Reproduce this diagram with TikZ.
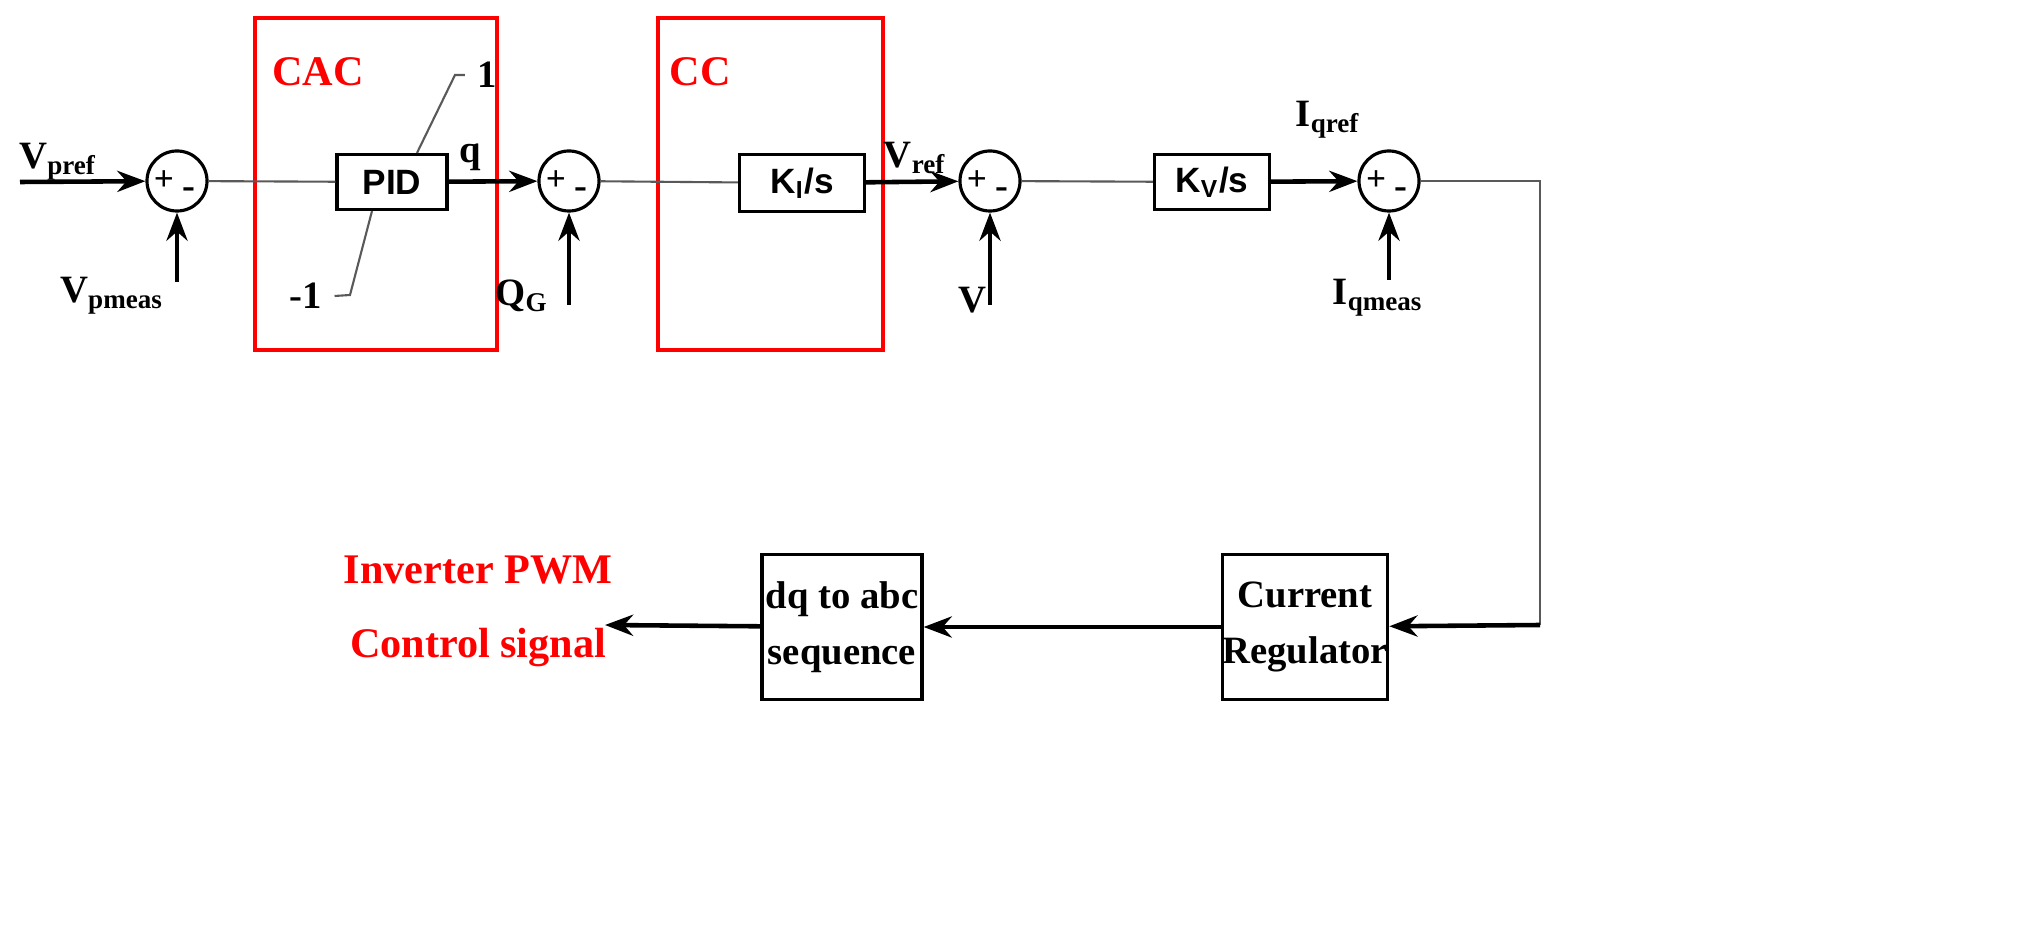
\documentclass[tikz,border=0pt]{standalone}
\usepackage{fontspec}
\setmainfont{Liberation Serif}
\newfontfamily\sansf{Liberation Sans}
\usetikzlibrary{arrows.meta}
\begin{document}
\begin{tikzpicture}[x=0.01cm,y=-0.01cm,
  sum/.style={draw,circle,minimum size=0.6cm,inner sep=0pt,line width=0.9pt},
  blk/.style={draw,line width=0.9pt,inner sep=0pt,font=\sansf\bfseries\fontsize{10}{12}\selectfont},
  blk2/.style={draw,line width=0.9pt,inner sep=0pt,align=center,font=\bfseries\fontsize{11}{16}\selectfont},
  redb/.style={draw=red,line width=1pt},
  lbl/.style={font=\bfseries\fontsize{11}{13}\selectfont},
  rlbl/.style={font=\bfseries\fontsize{12}{14}\selectfont,text=red},
  arr/.style={-{Stealth[length=8pt,width=6pt]},line width=1.3pt},
  ln/.style={line width=0.6pt,draw=gray!70!black}]
\useasboundingbox (0,0) rectangle (2019,925);
\draw[redb] (255,18) rectangle (497,350);
\draw[redb] (658,18) rectangle (883,350);
\node[rlbl] (cac) at (318,72) {CAC};
\node[rlbl] (cc) at (700,72) {CC};
\node[sum] (s1) at (177,181) {};
\node[sum] (s2) at (569,181) {};
\node[sum] (s3) at (990,181) {};
\node[sum] (s4) at (1389,181) {};
\foreach \s in {s1,s2,s3,s4}{
  \node[font=\bfseries\fontsize{10}{10}\selectfont] at ([xshift=-0.13cm]\s.center) {+};
  \node[font=\bfseries\fontsize{11}{11}\selectfont] at ([xshift=0.12cm,yshift=-0.12cm]\s.center) {-};}
\node[blk,minimum width=1.1cm,minimum height=0.55cm] (pid) at (392,182) {PID};
\node[blk,minimum width=1.25cm,minimum height=0.57cm] (ki) at (802,183) {K\textsubscript{I}/s};
\node[blk,minimum width=1.15cm,minimum height=0.55cm] (kv) at (1212,182) {K\textsubscript{V}/s};
\node[blk2,minimum width=1.32cm,minimum height=1.45cm] (cr) at (1305,627) {Current\\Regulator};
\node[blk2,minimum width=1.6cm,minimum height=1.45cm] (dq) at (842,627) {dq to abc\\sequence};
\node[lbl] (vpref) at (58,162) {V\textsubscript{pref}};
\node[lbl] (vpm) at (112,296) {V\textsubscript{pmeas}};
\node[lbl] (q) at (470,157) {q};
\node[lbl] (qg) at (522,296) {Q\textsubscript{G}};
\node[lbl] (vref) at (915,158) {V\textsubscript{ref}};
\node[lbl] (v) at (972,300) {V};
\node[lbl] (iqr) at (1328,120) {I\textsubscript{qref}};
\node[lbl] (iqm) at (1378,298) {I\textsubscript{qmeas}};
\node[lbl] (one) at (487,75) {1};
\node[lbl] (mone) at (306,296) {-1};
\node[rlbl] (inv) at (478,570) {Inverter PWM};
\node[rlbl] (ctl) at (478,648) {Control signal};
\coordinate (in1) at (20,182);
\coordinate (b1) at (177,282);
\coordinate (b2) at (569,305);
\coordinate (b3) at (990,305);
\coordinate (b4) at (1389,280);
\coordinate (c1) at (1540,181);
\coordinate (c2) at (1540,625);
\coordinate (out) at (605,625);
\draw[arr] (in1) -- (s1);
\draw[arr] (b1) -- (s1);
\draw[ln] (s1) -- (pid);
\draw[arr] (pid) -- (s2);
\draw[arr] (b2) -- (s2);
\draw[ln] (s2) -- (ki);
\draw[arr] (ki) -- (s3);
\draw[arr] (b3) -- (s3);
\draw[ln] (s3) -- (kv);
\draw[arr] (kv) -- (s4);
\draw[arr] (b4) -- (s4);
\draw[ln] (s4) -- (c1) -- (c2);
\draw[arr] (c2) -- (cr);
\draw[arr] (cr) -- (dq);
\draw[arr] (dq) -- (out);
\draw[ln] (pid.north)+(0.25cm,0) -- (455,75) -- (one.west);
\draw[ln] (pid.south)+(-0.2cm,0) -- (350,295) -- (mone.east);
\end{tikzpicture}
\end{document}
